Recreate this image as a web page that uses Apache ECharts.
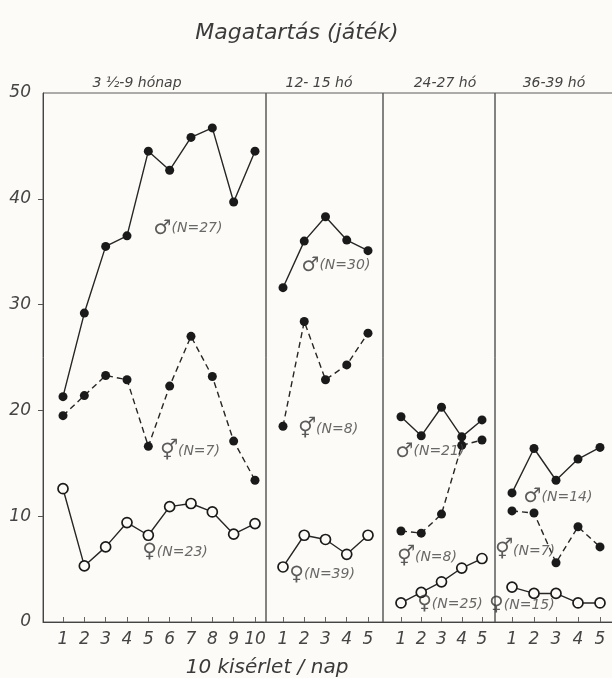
<!DOCTYPE html>
<html>
<head>
<meta charset="utf-8">
<script src="https://cdn.jsdelivr.net/npm/echarts@6/dist/echarts.min.js"></script>
<style>
html,body{margin:0;padding:0;background:#fcfbf7;}
#chart{width:612px;height:678px;}
</style>
</head>
<body>
<div id="chart"></div>
<script>
// ---- data ----
const titleText = 'Magatartás (játék)';
const xTitle = '10 kisérlet / nap';
const panelNames = ['3 ½-9 hónap', '12- 15 hó', '24-27 hó', '36-39 hó'];
const yTicks = [0, 10, 20, 30, 40, 50];
const xTicks1 = [1, 2, 3, 4, 5, 6, 7, 8, 9, 10];
const xTicks2 = [1, 2, 3, 4, 5];

const male1   = [21.3, 29.2, 35.5, 36.5, 44.5, 42.7, 45.8, 46.7, 39.7, 44.5];
const mixed1  = [19.5, 21.4, 23.3, 22.9, 16.6, 22.3, 27.0, 23.2, 17.1, 13.4];
const female1 = [12.6, 5.3, 7.1, 9.4, 8.2, 10.9, 11.2, 10.4, 8.3, 9.3];

const male2   = [31.6, 36.0, 38.3, 36.1, 35.1];
const mixed2  = [18.5, 28.4, 22.9, 24.3, 27.3];
const female2 = [5.2, 8.2, 7.8, 6.4, 8.2];

const male3   = [19.4, 17.6, 20.3, 17.5, 19.1];
const mixed3  = [8.6, 8.4, 10.2, 16.7, 17.2];
const female3 = [1.8, 2.8, 3.8, 5.1, 6.0];

const male4   = [12.2, 16.4, 13.4, 15.4, 16.5];
const mixed4  = [10.5, 10.3, 5.6, 9.0, 7.1];
const female4 = [3.3, 2.7, 2.7, 1.8, 1.8];

// annotation labels: [x, y, symbol, text]
const notes1 = [[6.86, 37.2, '♂', '(N=27)'], [6.95, 16.1, '⚥', '(N=7)'], [6.25, 6.6, '♀', '(N=23)']];
const notes2 = [[3.49, 33.7, '♂', '(N=30)'], [3.12, 18.2, '⚥', '(N=8)'], [2.84, 4.5, '♀', '(N=39)']];
const notes3 = [[2.43, 16.1, '♂', '(N=21)'], [2.28, 6.1, '⚥', '(N=8)'], [3.42, 1.7, '♀', '(N=25)']];
const notes4 = [[3.09, 11.8, '♂', '(N=14)'], [1.59, 6.7, '⚥', '(N=7)'], [1.45, 1.6, '♀', '(N=15)']];

// ---- layout ----
const panels = [
  {left: 43, width: 223, min: 0.0625, max: 10.516, ticks: xTicks1, male: male1, mixed: mixed1, female: female1, notes: notes1},
  {left: 266, width: 117, min: 0.2, max: 5.706, ticks: xTicks2, male: male2, mixed: mixed2, female: female2, notes: notes2},
  {left: 383, width: 112, min: 0.111, max: 5.642, ticks: xTicks2, male: male3, mixed: mixed3, female: female3, notes: notes3},
  {left: 495, width: 125, min: 0.227, max: 5.909, ticks: xTicks2, male: male4, mixed: mixed4, female: female4, notes: notes4}
];
const panelLabelX = [132, 314, 440, 549];
const ink = '#262626';
const txt = '#454545';
const FONT = 'DejaVu Sans';
const BG = '#fcfbf7';

const chart = echarts.init(document.getElementById('chart'), null, {renderer: 'canvas'});

const grid = [], xAxis = [], yAxis = [], series = [];
panels.forEach((p, i) => {
  grid.push({left: p.left, top: 93, width: p.width, height: 529, show: true,
    outerBoundsMode: 'none', containLabel: false,
    borderColor: '#5a5a5a', borderWidth: 1, backgroundColor: 'transparent'});
  xAxis.push({
    type: 'value', gridIndex: i, min: p.min, max: p.max,
    axisLine: {show: true, lineStyle: {color: '#444', width: 1}},
    axisTick: {show: true, inside: true, length: 5, customValues: p.ticks, lineStyle: {color: '#666'}},
    axisLabel: {show: true, customValues: p.ticks, margin: 9, color: txt, fontSize: 17,
      fontStyle: 'italic', fontFamily: FONT, formatter: v => String(v)},
    splitLine: {show: false}
  });
  yAxis.push({
    type: 'value', gridIndex: i, min: 0, max: 50, interval: 10,
    axisLine: {show: i === 0, lineStyle: {color: '#444'}},
    axisTick: {show: i === 0, length: 5, customValues: yTicks.slice(1, 5), lineStyle: {color: '#555'}},
    axisLabel: {show: i === 0, margin: 12, color: txt, fontSize: 17, fontStyle: 'italic', fontFamily: FONT,
      customValues: yTicks},
    splitLine: {show: false}
  });
  const xs = p.ticks;
  series.push({
    type: 'line', xAxisIndex: i, yAxisIndex: i,
    data: p.male.map((v, k) => [xs[k], v]),
    symbol: 'circle', symbolSize: 9, itemStyle: {color: '#1a1a1a'},
    lineStyle: {color: ink, width: 1.4}, animation: false, z: 3
  });
  series.push({
    type: 'line', xAxisIndex: i, yAxisIndex: i,
    data: p.mixed.map((v, k) => [xs[k], v]),
    symbol: 'circle', symbolSize: 9, itemStyle: {color: '#1a1a1a'},
    lineStyle: {color: ink, width: 1.4, type: [6, 4]}, animation: false, z: 3
  });
  series.push({
    type: 'line', xAxisIndex: i, yAxisIndex: i,
    data: p.female.map((v, k) => [xs[k], v]),
    symbol: 'circle', symbolSize: 10,
    itemStyle: {color: BG, borderColor: '#1a1a1a', borderWidth: 1.7},
    lineStyle: {color: ink, width: 1.4}, animation: false, z: 3
  });
  series.push({
    type: 'scatter', xAxisIndex: i, yAxisIndex: i, symbolSize: 0, silent: true, animation: false,
    data: p.notes.map(n => ({value: [n[0], n[1]], sym: n[2], t: n[3]})),
    label: {
      show: true, position: 'inside',
      formatter: prm => '{s|' + prm.data.sym + '}{t|' + prm.data.t + '}',
      rich: {
        s: {fontSize: 20, color: '#333', fontFamily: FONT},
        t: {fontSize: 14, color: '#444', fontStyle: 'italic', fontFamily: FONT}
      }
    },
    z: 4
  });
});

const option = {
  backgroundColor: BG,
  animation: false,
  title: [
    {text: titleText, left: 292, top: 17, textAlign: 'center',
      textStyle: {fontSize: 22, fontWeight: 'normal', fontStyle: 'italic', color: '#3c3c3c', fontFamily: FONT}},
    ...panelNames.map((n, i) => ({text: n, left: panelLabelX[i], top: 71, textAlign: 'center',
      textStyle: {fontSize: 14, fontWeight: 'normal', fontStyle: 'italic', color: '#444', fontFamily: FONT}})),
    {text: xTitle, left: 262, top: 653, textAlign: 'center',
      textStyle: {fontSize: 20, fontWeight: 'normal', fontStyle: 'italic', color: '#3a3a3a', fontFamily: FONT}}
  ],
  grid, xAxis, yAxis, series
};
chart.setOption(option);
</script>
</body>
</html>
